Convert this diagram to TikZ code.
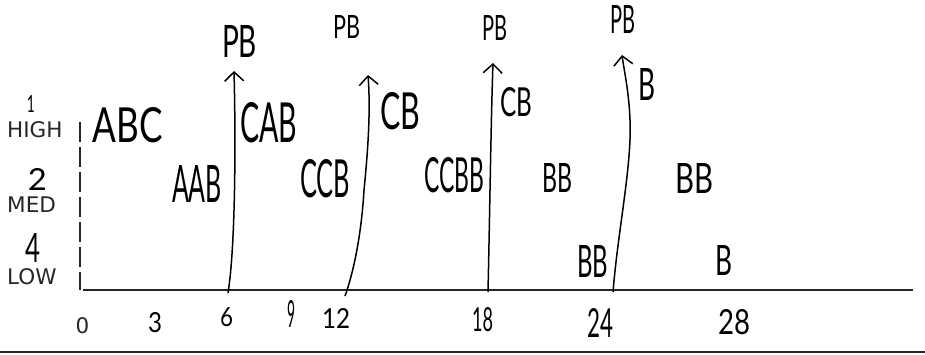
\documentclass[tikz,border=0pt]{standalone}
\usepackage{fontspec}
\usepackage{graphicx}
\newfontfamily\typedfont{DejaVu Sans}
\newfontfamily\handfont{Lato}
\usetikzlibrary{arrows.meta}
\newcommand{\hw}[3]{\resizebox{#1pt}{#2pt}{\handfont #3}}
\begin{document}
\begin{tikzpicture}[x=1pt,y=-1pt,
  lbl/.style={inner sep=0pt, outer sep=0pt, anchor=center},
  typed/.style={font=\typedfont\fontsize{21.5}{21.5}\selectfont, inner sep=0pt, anchor=west, text=black!85},
  baseaxis/.style={line width=1.6pt, draw=black!85},
  dashaxis/.style={line width=1.6pt, draw=black!85, dash pattern=on 20pt off 5pt},
  flow/.style={line width=1.5pt, -{Straight Barb[length=9pt,width=19pt,line width=1.5pt]}}]
\useasboundingbox (0,0) rectangle (925,354);
\fill[white] (0,0) rectangle (925,354);

% axes
\coordinate (xa0) at (83,290);
\coordinate (xa1) at (913,290);
\coordinate (ya0) at (80,122);
\coordinate (ya1) at (80,290);
\coordinate (bl0) at (0,352);
\coordinate (bl1) at (925,352);
\draw[baseaxis] (xa0) -- (xa1);
\draw[baseaxis] (bl0) -- (bl1);
\draw[dashaxis] (ya0) -- (ya1);

% level labels
\node[lbl] (n1) at (31,103.5) {\hw{8}{17}{1}};
\node[typed] (high) at (7,130) {HIGH};
\node[lbl] (n2) at (37.5,179) {\hw{19}{22}{2}};
\node[typed] (med) at (7,205) {MED};
\node[lbl] (n4) at (32.5,247.5) {\hw{15}{29}{4}};
\node[typed] (low) at (7,277) {LOW};

% time labels
\node[typed, anchor=center] (t0) at (82.5,325.5) {0};
\node[lbl] (t3) at (155,323) {\hw{14}{20}{3}};
\node[lbl] (t6) at (226.5,317.5) {\hw{13}{19}{6}};
\node[lbl] (t9) at (291,313.5) {\hw{8}{27}{9}};
\node[lbl] (t12) at (336,318) {\hw{28}{20}{12}};
\node[lbl] (t18) at (482.5,320) {\hw{21}{24}{18}};
\node[lbl] (t24) at (600,322.5) {\hw{26}{29}{24}};
\node[lbl] (t28) at (734,322.5) {\hw{32}{25}{28}};

% queue labels
\node[lbl] (abc) at (128,125.5) {\hw{70}{35}{ABC}};
\node[lbl] (aab) at (197,183.5) {\hw{50}{37}{AAB}};
\node[lbl] (cab) at (268.5,123) {\hw{57}{40}{CAB}};
\node[lbl] (ccb) at (325,179) {\hw{50}{38}{CCB}};
\node[lbl] (cb2) at (400,111.5) {\hw{40}{37}{CB}};
\node[lbl] (ccbb) at (454,175.5) {\hw{60}{35}{CCBB}};
\node[lbl] (cb3) at (516,102.5) {\hw{32}{29}{CB}};
\node[lbl] (bbm) at (557,177.5) {\hw{30}{29}{BB}};
\node[lbl] (b4) at (646.5,84) {\hw{17}{32}{B}};
\node[lbl] (bbr) at (694,178) {\hw{38}{30}{BB}};
\node[lbl] (bbl) at (592.5,261) {\hw{31}{32}{BB}};
\node[lbl] (bl) at (723.5,260) {\hw{17}{30}{B}};

% PB labels
\node[lbl] (pb1) at (239.5,41) {\hw{35}{32}{PB}};
\node[lbl] (pb2) at (346.5,26.5) {\hw{27}{23}{PB}};
\node[lbl] (pb3) at (494.5,27.5) {\hw{25}{25}{PB}};
\node[lbl] (pb4) at (622.5,19) {\hw{25}{28}{PB}};

% arrows
\coordinate (s1) at (228,293);
\coordinate (e1) at (234,71);
\coordinate (s2) at (345,296);
\coordinate (m2) at (364,190);
\coordinate (e2) at (368,75);
\coordinate (s3) at (488,292);
\coordinate (e3) at (493,63);
\coordinate (s4) at (613,292);
\coordinate (m4) at (630,120);
\coordinate (e4) at (622,55);
\draw[flow] (s1) .. controls (235,250) and (236,150) .. (e1);
\draw[flow] (s2) .. controls (356,265) and (362,225) .. (m2) .. controls (367,160) and (371,115) .. (e2);
\draw[flow] (s3) .. controls (490,200) and (491,120) .. (e3);
\draw[flow] (s4) .. controls (618,230) and (632,165) .. (m4) .. controls (629,92) and (624,70) .. (e4);
\end{tikzpicture}
\end{document}
